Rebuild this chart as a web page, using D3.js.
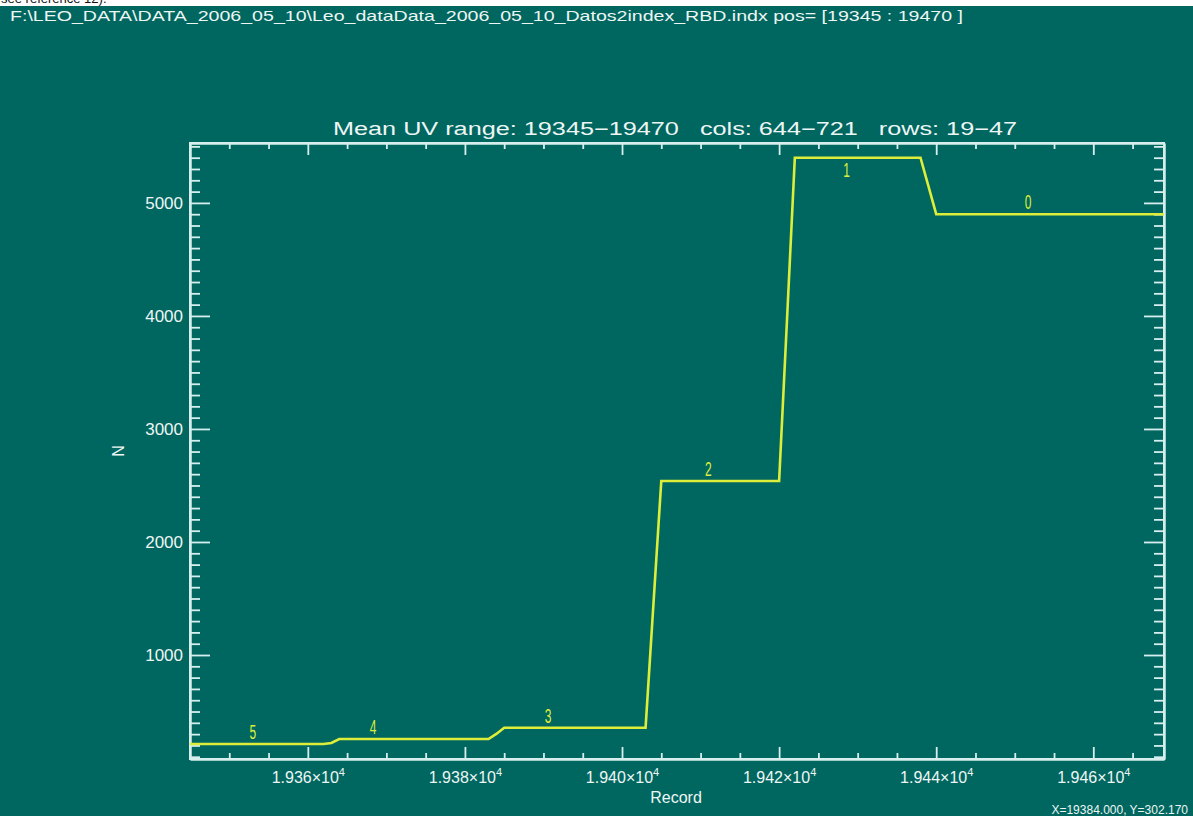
<!DOCTYPE html>
<html>
<head>
<meta charset="utf-8">
<script src="https://cdn.jsdelivr.net/npm/d3@7"></script>
<style>
  html, body { margin: 0; padding: 0; background: #ffffff; }
  svg { display: block; }
  text { font-family: "Liberation Sans", "DejaVu Sans", sans-serif; white-space: pre; }
</style>
</head>
<body>
<svg id="chart" width="1193" height="816"></svg>
<script>
// Mean counts per record, polyline vertices of the UV-range trace
const records = [19345, 19362, 19363, 19364, 19383, 19384, 19385, 19403, 19404, 19405,
                 19420, 19421, 19422, 19438, 19439, 19440, 19469];
const counts  = [213, 213, 222, 257, 257, 302, 357, 357, 1450, 2540,
                 2540, 3960, 5400, 5400, 5150, 4900, 4900];

// Step index labels and the record where each is written
const stepLabels  = ["5", "4", "3", "2", "1", "0"];
const stepRecords = [19353, 19368.3, 19390.6, 19411, 19428.6, 19451.7];
const stepBelow   = [false, false, false, false, true, false];

// Axes
const xDomain = [19345, 19469];
const yDomain = [80, 5530];
const xMajorTicks = [19360, 19380, 19400, 19420, 19440, 19460];
const xTickLabels = ["1.936", "1.938", "1.940", "1.942", "1.944", "1.946"];
const yMajorTicks = [1000, 2000, 3000, 4000, 5000];
const yTickLabels = ["1000", "2000", "3000", "4000", "5000"];

const headerText = "F:\\LEO_DATA\\DATA_2006_05_10\\Leo_dataData_2006_05_10_Datos2index_RBD.indx pos= [19345 : 19470 ]";
const titleText = "Mean UV range: 19345\u221219470   cols: 644\u2212721   rows: 19\u221247";
const cursorText = "X=19384.000, Y=302.170";

const W = 1193, H = 816;
const plot = { left: 190, right: 1164, top: 143, bottom: 759 };
const BG = "#006660", AX = "#d6eeee", FG = "#eef6f4", TRACE = "#dcee3a";

const svg = d3.select("#chart");

// caption text from the page above, mostly hidden under the window
svg.append("text").attr("x", 1).attr("y", 3)
  .attr("font-family", "Liberation Serif, serif").attr("font-size", 13)
  .attr("fill", "#111").text("see reference 12).");

svg.append("rect").attr("x", 0).attr("y", 6).attr("width", W).attr("height", H - 6).attr("fill", BG);

svg.append("text").attr("x", 10).attr("y", 21)
  .attr("font-size", 15).attr("fill", FG)
  .attr("textLength", 953).attr("lengthAdjust", "spacingAndGlyphs")
  .text(headerText);

svg.append("text").attr("x", 333).attr("y", 135)
  .attr("font-size", 18).attr("fill", FG)
  .attr("textLength", 684).attr("lengthAdjust", "spacingAndGlyphs")
  .text(titleText);

const x = d3.scaleLinear().domain(xDomain).range([plot.left, plot.right]);
const y = d3.scaleLinear().domain(yDomain).range([plot.bottom, plot.top]);

const xMinor = d3.range(19350, 19470, 5).filter(v => !xMajorTicks.includes(v));
const yMinor = d3.range(100, 5530, 100).filter(v => !yMajorTicks.includes(v));

const ph = plot.bottom - plot.top, pw = plot.right - plot.left;
const xMajLen = 12, xMinLen = 6, yMajLen = 20, yMinLen = 10;

function styleAxis(g) {
  g.select(".domain").attr("stroke", AX).attr("stroke-width", 2);
  g.selectAll(".tick line").attr("stroke", AX).attr("stroke-width", 1.8);
  g.selectAll(".tick text").attr("fill", FG).attr("font-family", "Liberation Sans, sans-serif");
}

// bottom axis: major ticks with labels
const gxb = svg.append("g").attr("transform", `translate(0,${plot.bottom})`)
  .call(d3.axisBottom(x).tickValues(xMajorTicks).tickSize(-xMajLen).tickSizeOuter(0).tickPadding(22)
    .tickFormat((d, i) => ""));
styleAxis(gxb);
gxb.selectAll(".tick text").each(function (d, i) {
  const t = d3.select(this).attr("font-size", 16).attr("dy", 0).attr("y", 24);
  t.append("tspan").text(xTickLabels[i] + "\u00d710");
  t.append("tspan").attr("font-size", 11).attr("dy", -7).text("4");
});
svg.append("g").attr("transform", `translate(0,${plot.bottom})`)
  .call(d3.axisBottom(x).tickValues(xMinor).tickSize(-xMinLen).tickSizeOuter(0).tickFormat(""))
  .call(styleAxis);

// top axis
svg.append("g").attr("transform", `translate(0,${plot.top})`)
  .call(d3.axisTop(x).tickValues(xMajorTicks).tickSize(-xMajLen).tickSizeOuter(0).tickFormat(""))
  .call(styleAxis);
svg.append("g").attr("transform", `translate(0,${plot.top})`)
  .call(d3.axisTop(x).tickValues(xMinor).tickSize(-xMinLen).tickSizeOuter(0).tickFormat(""))
  .call(styleAxis);

// left axis
svg.append("g").attr("transform", `translate(${plot.left},0)`)
  .call(d3.axisLeft(y).tickValues(yMajorTicks).tickSize(-yMajLen).tickSizeOuter(0).tickPadding(8)
    .tickFormat((d, i) => yTickLabels[i]))
  .call(styleAxis)
  .call(g => g.selectAll(".tick text").attr("font-size", 17).attr("x", -7));
svg.append("g").attr("transform", `translate(${plot.left},0)`)
  .call(d3.axisLeft(y).tickValues(yMinor).tickSize(-yMinLen).tickSizeOuter(0).tickFormat(""))
  .call(styleAxis);

// right axis
svg.append("g").attr("transform", `translate(${plot.right},0)`)
  .call(d3.axisRight(y).tickValues(yMajorTicks).tickSize(-yMajLen).tickSizeOuter(0).tickFormat(""))
  .call(styleAxis);
svg.append("g").attr("transform", `translate(${plot.right},0)`)
  .call(d3.axisRight(y).tickValues(yMinor).tickSize(-yMinLen).tickSizeOuter(0).tickFormat(""))
  .call(styleAxis);

// closing frame edges
svg.append("rect").attr("x", plot.left).attr("y", plot.top).attr("width", pw).attr("height", ph)
  .attr("fill", "none").attr("stroke", AX).attr("stroke-width", 2);

// axis titles
svg.append("text").attr("x", 676).attr("y", 803).attr("text-anchor", "middle")
  .attr("font-size", 16).attr("fill", FG).text("Record");
svg.append("text").attr("transform", `translate(124,${(plot.top + plot.bottom) / 2}) rotate(-90)`)
  .attr("text-anchor", "middle").attr("font-size", 16).attr("fill", FG).text("N");

// trace
const pts = records.map((r, i) => [r, counts[i]]);
svg.append("path").datum(pts)
  .attr("d", d3.line().x(d => x(d[0])).y(d => y(d[1])))
  .attr("fill", "none").attr("stroke", TRACE).attr("stroke-width", 2.6)
  .attr("stroke-linejoin", "miter");

// step labels
function valueAt(r) {
  for (let i = 1; i < records.length; i++) {
    if (r <= records[i]) {
      const t = (r - records[i - 1]) / (records[i] - records[i - 1]);
      return counts[i - 1] + t * (counts[i] - counts[i - 1]);
    }
  }
  return counts[counts.length - 1];
}
svg.append("g").selectAll("text").data(stepLabels).join("text")
  .attr("transform", (d, i) => {
    const px = x(stepRecords[i]);
    const py = y(valueAt(stepRecords[i])) + (stepBelow[i] ? 19 : -5);
    return `translate(${px},${py}) scale(0.6,1)`;
  })
  .attr("text-anchor", "middle").attr("font-size", 20).attr("fill", TRACE)
  .text(d => d);

// cursor readout
svg.append("text").attr("x", 1188).attr("y", 814).attr("text-anchor", "end")
  .attr("font-size", 12).attr("fill", FG).text(cursorText);
</script>
</body>
</html>
